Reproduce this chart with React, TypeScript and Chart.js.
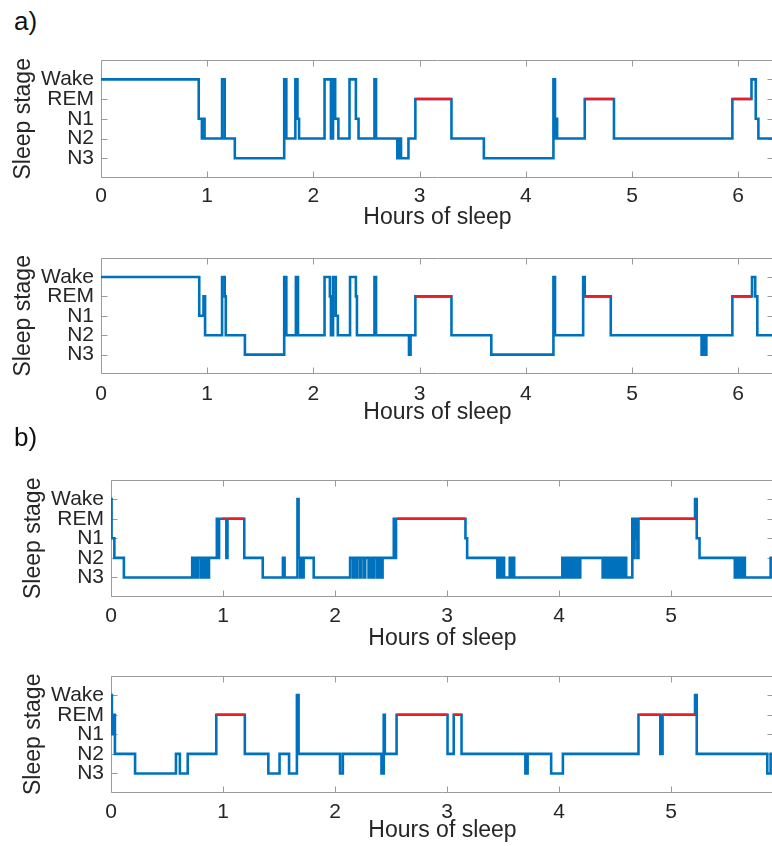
import React, { useEffect, useRef } from 'react';
import { Chart, registerables } from 'chart.js';

Chart.register(...registerables);

// Sleep stages: value 1..5 on the y axis
const stageLabels = ['N3', 'N2', 'N1', 'REM', 'Wake'];
const REM = 4;

// ---- a) top: change times (hours) and stage entered at that time ----
const hoursA1 = [0, 0.92, 0.95, 0.955, 0.975, 1.14, 1.165, 1.26, 1.725, 1.745, 1.83, 1.85, 1.865, 2.105, 2.165, 2.185, 2.205, 2.235, 2.34, 2.4, 2.425, 2.575, 2.59, 2.79, 2.81, 2.825, 2.895, 2.96, 3.3, 3.605, 4.26, 4.275, 4.285, 4.295, 4.555, 4.83, 5.945, 6.125, 6.165, 6.19, 6.4];
const stagesA1 = [5, 3, 2, 3, 2, 5, 2, 1, 5, 2, 5, 3, 2, 5, 2, 5, 3, 2, 5, 3, 2, 5, 2, 1, 2, 1, 2, 4, 2, 1, 5, 2, 3, 2, 4, 2, 4, 5, 3, 2, 2];
const remStartA1 = [2.96, 4.555, 5.945];
const remEndA1 = [3.3, 4.83, 6.125];

// ---- a) bottom ----
const hoursA2 = [0, 0.925, 0.965, 0.98, 1.14, 1.165, 1.175, 1.355, 1.725, 1.745, 1.835, 1.855, 2.105, 2.155, 2.165, 2.185, 2.21, 2.23, 2.345, 2.4, 2.41, 2.575, 2.59, 2.9, 2.915, 2.96, 3.3, 3.675, 4.26, 4.275, 4.54, 4.555, 4.8, 5.655, 5.67, 5.685, 5.7, 5.945, 6.13, 6.16, 6.18, 6.4];
const stagesA2 = [5, 3, 4, 2, 5, 4, 2, 1, 5, 2, 5, 2, 5, 4, 2, 5, 3, 2, 5, 4, 2, 5, 2, 1, 2, 4, 2, 1, 5, 2, 5, 4, 2, 1, 2, 1, 2, 4, 5, 4, 2, 2];
const remStartA2 = [2.96, 4.555, 5.945];
const remEndA2 = [3.3, 4.8, 6.13];

// ---- b) top ----
const hoursB1 = [0, 0.005, 0.03, 0.115,
  0.725, 0.74, 0.75, 0.77, 0.78, 0.805, 0.815, 0.835, 0.845, 0.865, 0.875,
  0.945, 0.955, 0.965, 1.03, 1.04, 1.19, 1.355, 1.535, 1.55, 1.665, 1.675, 1.69, 1.7, 1.71, 1.72, 1.81,
  2.135, 2.16, 2.17, 2.19, 2.2, 2.225, 2.235, 2.26, 2.27, 2.3, 2.315, 2.335, 2.35, 2.375, 2.39, 2.41, 2.425,
  2.525, 2.535, 2.545, 3.165, 3.18,
  3.45, 3.47, 3.485, 3.5, 3.51, 3.56, 3.575, 3.585, 3.6,
  4.03, 4.045, 4.055, 4.07, 4.08, 4.095, 4.105, 4.12, 4.13, 4.15, 4.16, 4.18, 4.19,
  4.39, 4.4, 4.42, 4.43, 4.45, 4.46, 4.48, 4.49, 4.51, 4.52, 4.54, 4.555, 4.575, 4.585, 4.6, 4.615,
  4.655, 4.665, 4.675, 4.685, 4.695, 4.7, 4.71, 5.215, 5.23, 5.255,
  5.57, 5.58, 5.59, 5.6, 5.615, 5.625, 5.64, 5.65, 5.66, 5.89, 5.95];
const stagesB1 = [5, 3, 2, 1,
  2, 1, 2, 1, 2, 1, 2, 1, 2, 1, 2,
  4, 2, 4, 2, 4, 2, 1, 2, 1, 5, 2, 1, 2, 1, 2, 1,
  2, 1, 2, 1, 2, 1, 2, 1, 2, 1, 2, 1, 2, 1, 2, 1, 2,
  4, 2, 4, 3, 2,
  1, 2, 1, 2, 1, 2, 1, 2, 1,
  2, 1, 2, 1, 2, 1, 2, 1, 2, 1, 2, 1, 2,
  1, 2, 1, 2, 1, 2, 1, 2, 1, 2, 1, 2, 1, 2, 1, 1,
  4, 2, 4, 3, 4, 2, 4, 5, 3, 2,
  1, 2, 1, 2, 1, 2, 1, 2, 1, 2, 2];
const remStartB1 = [0.995, 1.04, 2.555, 4.715];
const remEndB1 = [1.03, 1.19, 3.165, 5.215];

// ---- b) bottom ----
const hoursB2 = [0, 0.008, 0.02, 0.035, 0.215, 0.58, 0.615, 0.685, 0.94, 1.195, 1.405, 1.505, 1.59, 1.66, 1.675, 2.045, 2.07, 2.415, 2.435, 2.445, 2.55, 3.005, 3.06, 3.13, 3.7, 3.72, 3.93, 4.035, 4.71, 4.905, 4.925, 5.215, 5.23, 5.86, 5.89, 5.95];
const stagesB2 = [5, 3, 4, 2, 1, 2, 1, 2, 4, 2, 1, 2, 1, 5, 2, 1, 2, 1, 4, 2, 4, 2, 4, 2, 1, 2, 1, 2, 4, 2, 4, 5, 2, 1, 2, 2];
const remStartB2 = [0.94, 2.55, 3.06, 4.71, 4.925];
const remEndB2 = [1.195, 3.005, 3.13, 4.905, 5.215];

const BLUE = '#0072BD';
const RED = '#EE1C25';
const TEXT = '#262626';
const AXIS = '#9a9a9a';
const FONT = "'Liberation Sans', Arial, Helvetica, sans-serif";
const TICK_LEN = 6;
const LINE_W = 2.6;

type PanelCfg = {
  hours: number[]; stages: number[]; remStart: number[]; remEnd: number[];
  plotTop: number; plotBottom: number; plotLeft: number; xMax: number;
  xAxisH: number; tickPad: number; yTitlePad: number;
};

const panels: PanelCfg[] = [
  { hours: hoursA1, stages: stagesA1, remStart: remStartA1, remEnd: remEndA1, plotTop: 44, plotBottom: 178, plotLeft: 101, xMax: 6.337, xAxisH: 53, tickPad: 6, yTitlePad: 10 },
  { hours: hoursA2, stages: stagesA2, remStart: remStartA2, remEnd: remEndA2, plotTop: 242, plotBottom: 374, plotLeft: 101, xMax: 6.337, xAxisH: 52, tickPad: 8, yTitlePad: 10 },
  { hours: hoursB1, stages: stagesB1, remStart: remStartB1, remEnd: remEndB1, plotTop: 464, plotBottom: 597, plotLeft: 111, xMax: 5.92, xAxisH: 55, tickPad: 7, yTitlePad: 20 },
  { hours: hoursB2, stages: stagesB2, remStart: remStartB2, remEnd: remEndB2, plotTop: 660, plotBottom: 793, plotLeft: 111, xMax: 5.92, xAxisH: 51, tickPad: 7, yTitlePad: 20 },
];

const CANVAS_W = 780;
const PAD_TOP = 4;
const PAD_RIGHT = 6;

const boxPlugin = {
  id: 'matlabBox',
  beforeDatasetsDraw(chart: any) {
    const { ctx, chartArea: a, scales } = chart;
    const x = scales.x, y = scales.y;
    ctx.save();
    ctx.strokeStyle = AXIS;
    ctx.lineWidth = 1;
    ctx.beginPath();
    const l = Math.round(a.left) + 0.5, t = Math.round(a.top) + 0.5;
    const r = Math.round(a.right) - 0.5, b = Math.round(a.bottom) - 0.5;
    ctx.moveTo(l, t); ctx.lineTo(r, t); ctx.lineTo(r, b); ctx.lineTo(l, b); ctx.closePath();
    x.ticks.forEach((tk: any) => {
      const px = Math.round(x.getPixelForValue(tk.value)) + 0.5;
      ctx.moveTo(px, b); ctx.lineTo(px, b - TICK_LEN);
      ctx.moveTo(px, t); ctx.lineTo(px, t + TICK_LEN);
    });
    y.ticks.forEach((tk: any) => {
      if (tk.value < 1 || tk.value > 5) return;
      const py = Math.round(y.getPixelForValue(tk.value)) + 0.5;
      ctx.moveTo(l, py); ctx.lineTo(l + TICK_LEN, py);
      ctx.moveTo(r, py); ctx.lineTo(r - TICK_LEN, py);
    });
    ctx.stroke();
    ctx.restore();
  },
};

function Panel({ cfg }: { cfg: PanelCfg }) {
  const ref = useRef<HTMLCanvasElement | null>(null);
  const plotH = cfg.plotBottom - cfg.plotTop;
  const canvasH = PAD_TOP + plotH + cfg.xAxisH;

  useEffect(() => {
    if (!ref.current) return;
    const stepData = cfg.hours.map((h, i) => ({ x: h, y: cfg.stages[i] }));
    const remData: { x: number; y: number | null }[] = [];
    cfg.remStart.forEach((s, i) => {
      remData.push({ x: s, y: REM }, { x: cfg.remEnd[i], y: REM }, { x: cfg.remEnd[i], y: null });
    });
    const chart = new Chart(ref.current, {
      type: 'line',
      data: {
        datasets: [
          { data: remData as any, borderColor: RED, borderWidth: LINE_W, pointRadius: 0, spanGaps: false, order: 1 },
          { data: stepData as any, stepped: true, borderColor: BLUE, borderWidth: LINE_W, pointRadius: 0, order: 2 },
        ],
      },
      options: {
        responsive: false,
        maintainAspectRatio: false,
        animation: false,
        events: [],
        layout: { padding: { top: PAD_TOP, right: PAD_RIGHT, left: 0, bottom: 0 } },
        plugins: { legend: { display: false }, tooltip: { enabled: false } },
        scales: {
          x: {
            type: 'linear', min: 0, max: cfg.xMax,
            border: { display: false },
            grid: { display: false, drawTicks: false },
            ticks: {
              stepSize: 1, includeBounds: false, maxRotation: 0, autoSkip: false,
              padding: cfg.tickPad, color: TEXT, font: { family: FONT, size: 21 },
              callback: (v: any) => String(v),
            },
            title: { display: true, text: 'Hours of sleep', color: TEXT, font: { family: FONT, size: 23 }, padding: { top: 0, bottom: 0 } },
            afterFit: (s: any) => { s.height = cfg.xAxisH; },
          },
          y: {
            type: 'linear', min: 0, max: 6,
            border: { display: false },
            grid: { display: false, drawTicks: false },
            ticks: {
              stepSize: 1, autoSkip: false, padding: 7, color: TEXT, font: { family: FONT, size: 21 },
              callback: (v: any) => stageLabels[Number(v) - 1] ?? '',
            },
            title: { display: true, text: 'Sleep stage', color: TEXT, font: { family: FONT, size: 23 }, padding: { top: cfg.yTitlePad, bottom: 0 } },
            afterFit: (s: any) => { s.width = cfg.plotLeft; },
          },
        },
      },
      plugins: [boxPlugin],
    } as any);
    return () => chart.destroy();
  }, [cfg]);

  return (
    <canvas
      ref={ref}
      width={CANVAS_W}
      height={canvasH}
      style={{ position: 'absolute', left: 0, top: cfg.plotTop - PAD_TOP, width: CANVAS_W, height: canvasH }}
    />
  );
}

export default function App() {
  const labelStyle: React.CSSProperties = {
    position: 'absolute', left: 14, fontFamily: FONT, fontSize: 26, color: '#111', lineHeight: '26px',
  };
  return (
    <div style={{ position: 'absolute', left: 0, top: 0, width: 772, height: 846, overflow: 'hidden', background: '#fff' }}>
      {panels.map((p, i) => <Panel key={i} cfg={p} />)}
      <div style={{ ...labelStyle, top: 8 }}>a)</div>
      <div style={{ ...labelStyle, top: 424 }}>b)</div>
    </div>
  );
}
